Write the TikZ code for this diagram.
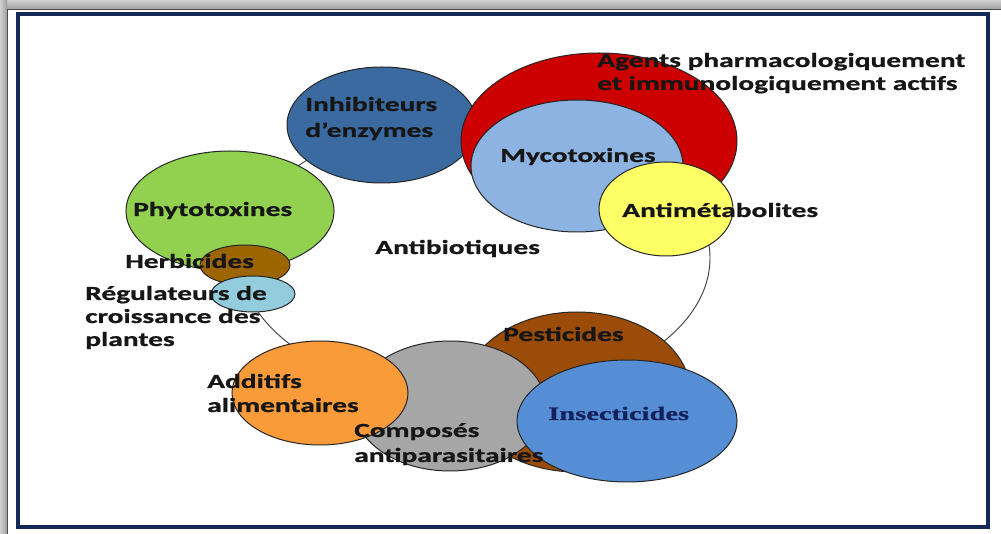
\documentclass[tikz,border=0pt]{standalone}
\usepackage{fontspec}
\newfontfamily\lblfont[FakeStretch=1.47, BoldFeatures={FakeBold=0.9}]{Carlito}
\newfontfamily\serlblfont[FakeStretch=1.5, BoldFeatures={FakeBold=0.7}]{Liberation Serif}
\definecolor{framec}{HTML}{14285A}
\definecolor{lblc}{HTML}{161616}
\definecolor{inhc}{HTML}{3B6AA0}
\definecolor{redc}{HTML}{CC0000}
\definecolor{mycc}{HTML}{8DB3E2}
\definecolor{antc}{HTML}{FFFF66}
\definecolor{phyc}{HTML}{92D050}
\definecolor{herc}{HTML}{9C6500}
\definecolor{regc}{HTML}{93CDDD}
\definecolor{addc}{HTML}{F99B38}
\definecolor{comc}{HTML}{A6A6A6}
\definecolor{pesc}{HTML}{9B4C08}
\definecolor{insc}{HTML}{558ED5}
\definecolor{insTxt}{HTML}{14205A}
\begin{document}
\begin{tikzpicture}[x=0.75pt,y=-0.75pt,
  shp/.style={draw=black!85, line width=0.75pt},
  ring/.style={draw=black!75, line width=0.7pt},
  lbl/.style={anchor=base west, inner sep=0pt, text=lblc,
    font=\lblfont\bfseries\fontsize{15}{18}\selectfont},
  serlbl/.style={anchor=base west, inner sep=0pt, text=insTxt,
    font=\serlblfont\bfseries\fontsize{14.25}{17}\selectfont}]
% background and frame
\useasboundingbox (0,0) rectangle (1001,534);
\fill[white] (0,0) rectangle (1001,534);
\shade[top color=black!18, bottom color=black!38] (0,0) rectangle (1001,9);
\shade[left color=black!18, right color=black!38] (0,0) rectangle (7,534);
\draw[black!70, line width=0.6pt] (7,534) -- (7,9) -- (1001,9);
\draw[framec, line width=3pt] (17.5,14.5) rectangle (988,527.5);
% ring
\draw[ring] (475,258) ellipse [x radius=235, y radius=140];
% shapes
\draw[shp, fill=inhc] (382,125) ellipse [x radius=95, y radius=58];
\draw[shp, fill=redc] (599,141) ellipse [x radius=138, y radius=88];
\draw[shp, fill=mycc] (577,166) ellipse [x radius=106, y radius=66];
\draw[shp, fill=antc] (666,209) ellipse [x radius=67, y radius=47];
\draw[shp, fill=phyc] (230,211) ellipse [x radius=104, y radius=60];
\draw[shp, fill=herc] (245,265) ellipse [x radius=45, y radius=20];
\draw[shp, fill=regc] (253,294) ellipse [x radius=42, y radius=18];
\draw[shp, fill=pesc] (577,392) ellipse [x radius=113, y radius=80];
\draw[shp, fill=comc] (450,406) ellipse [x radius=96, y radius=65];
\draw[shp, fill=addc] (320,393) ellipse [x radius=88, y radius=52];
\draw[shp, fill=insc] (627,421) ellipse [x radius=110, y radius=61];
% labels
\node[lbl] (inh1) at (305,111) {Inhibiteurs};
\node[lbl] (inh2) at (305,137) {d’enzymes};
\node[lbl] (age1) at (597,67) {Agents pharmacologiquement};
\node[lbl] (age2) at (597,90) {et immunologiquement actifs};
\node[lbl] (myc) at (500,162) {Mycotoxines};
\node[lbl] (ant) at (622,217) {Antimétabolites};
\node[lbl] (phy) at (133,216) {Phytotoxines};
\node[lbl] (abx) at (375,254) {Antibiotiques};
\node[lbl] (her) at (125,268) {Herbicides};
\node[lbl] (reg1) at (85,300) {Régulateurs de};
\node[lbl] (reg2) at (85,323) {croissance des};
\node[lbl] (reg3) at (85,346) {plantes};
\node[lbl] (add1) at (207,388) {Additifs};
\node[lbl] (add2) at (207,412) {alimentaires};
\node[lbl] (com1) at (354,437) {Composés};
\node[lbl] (com2) at (354,462) {antiparasitaires};
\node[lbl] (pes) at (503,341) {Pesticides};
\node[serlbl] (ins) at (548,420) {Insecticides};
\end{tikzpicture}
\end{document}
